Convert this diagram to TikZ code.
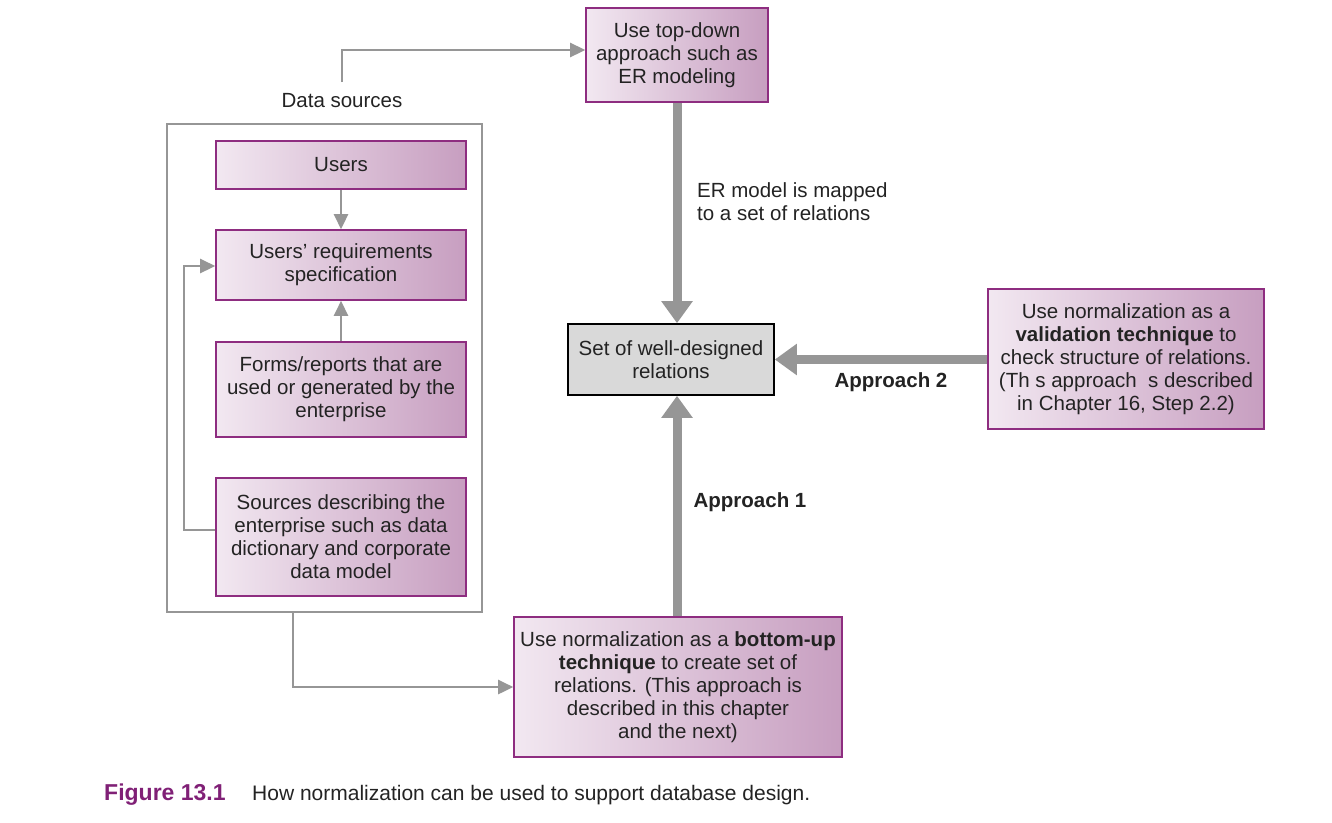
\documentclass[tikz,border=0pt]{standalone}
\usepackage{fontspec}
\setmainfont{Liberation Sans}
\usetikzlibrary{arrows.meta}
\definecolor{pborder}{RGB}{142,45,128}
\definecolor{pleft}{RGB}{242,232,241}
\definecolor{pright}{RGB}{199,158,192}
\definecolor{agray}{RGB}{150,150,150}
\definecolor{setfill}{RGB}{217,217,217}
\definecolor{figpurple}{RGB}{128,32,118}
\definecolor{txt}{RGB}{35,35,35}
\newcommand{\fsz}{\fontsize{20.5}{23}\selectfont}
\tikzset{
  pbox/.style={draw=pborder, line width=1.6pt, left color=pleft, right color=pright,
    align=center, inner sep=0pt, font=\fsz, text=txt},
  thin/.style={draw=agray, line width=2.6pt, -{Triangle[length=15pt,width=14pt]}},
  thick/.style={draw=agray, line width=9pt, -{Triangle[length=22pt,width=30pt]}},
  lbl/.style={font=\fsz, text=txt, inner sep=0pt},
}
\begin{document}
\begin{tikzpicture}[x=1pt,y=-1pt]
\useasboundingbox (0,0) rectangle (1332,822);
% outer group box
\draw[agray, line width=2pt] (167,124) rectangle (482,612);
\node[lbl] (ds) at (342,101) {Data sources};
% nodes
\node[pbox, minimum width=182pt, minimum height=94pt] (top) at (677,55) {Use top-down\\approach such as\\ER modeling};
\node[pbox, minimum width=250pt, minimum height=48pt] (users) at (341,165) {Users};
\node[pbox, minimum width=250pt, minimum height=70pt] (req) at (341,265) {Users' requirements\\specification};
\node[pbox, minimum width=250pt, minimum height=95pt] (forms) at (341,389.5) {Forms/reports that are\\used or generated by the\\enterprise};
\node[pbox, minimum width=250pt, minimum height=118pt] (src) at (341,537) {Sources describing the\\enterprise such as data\\dictionary and corporate\\data model};
\node[draw=black, line width=1.6pt, fill=setfill, align=center, inner sep=0pt, font=\fsz, text=txt,
  minimum width=206pt, minimum height=71pt] (set) at (671,359.5) {Set of well-designed\\relations};
\node[pbox, minimum width=276pt, minimum height=140pt] (val) at (1126,359) {Use normalization as a\\\textbf{validation technique} to\\check structure of relations.\\(Th s approach~ s described\\in Chapter 16, Step 2.2)};
\node[pbox, minimum width=328pt, minimum height=140pt] (bot) at (678,687) {Use normalization as a \textbf{bottom-up}\\\textbf{technique} to create set of\\relations. (This approach is\\described in this chapter\\and the next)};
% labels
\node[lbl, align=left, anchor=west] (erl) at (697,202) {ER model is mapped\\to a set of relations};
\node[lbl, anchor=center, font=\fsz\bfseries] (ap2) at (891,382) {Approach 2};
\node[lbl, anchor=center, font=\fsz\bfseries] (ap1) at (750,502) {Approach 1};
% coordinates
\coordinate (dsup) at (342,82);
\coordinate (boxbot) at (293,612);
% thin arrows
\draw[thin] (dsup) |- (top.west |- 0,50);
\draw[thin] (users) -- (req);
\draw[thin] (forms) -- (req);
\draw[thin] (src.west |- 0,530) -| (184,266) -- (req.west |- 0,266);
\draw[thin] (boxbot) |- (bot.west);
% thick arrows
\draw[thick] (top.south) -- (set.north -| top.south);
\draw[thick] (val.west |- set.east) -- (set.east);
\draw[thick] (bot.north -| top.south) -- (set.south -| top.south);
% caption
\node[anchor=west, inner sep=0pt, font=\fontsize{23}{25}\selectfont\bfseries, text=figpurple] (fig) at (104,795) {Figure 13.1};
\node[anchor=west, inner sep=0pt, font=\fontsize{21}{23}\selectfont, text=txt] (cap) at (252,795) {How normalization can be used to support database design.};
\end{tikzpicture}
\end{document}
